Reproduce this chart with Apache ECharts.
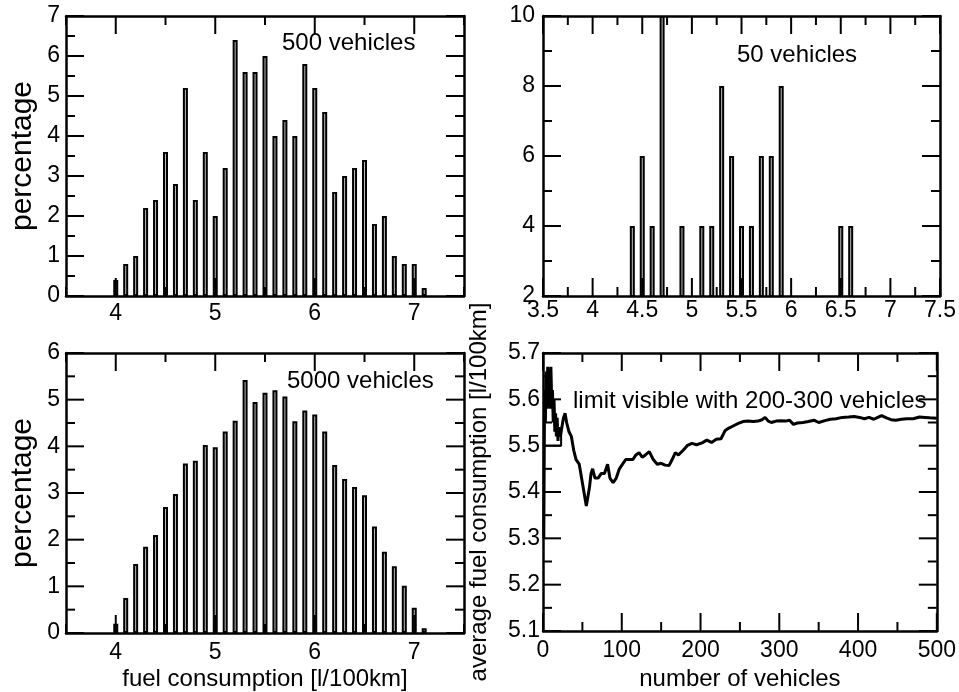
<!DOCTYPE html>
<html>
<head>
<meta charset="utf-8">
<title>fuel consumption</title>
<script src="https://cdn.jsdelivr.net/npm/echarts@6/dist/echarts.min.js"></script>
<style>
  html, body { margin: 0; padding: 0; background: #fff; }
  #charts { width: 959px; height: 692px; }
</style>
</head>
<body>
<div id="charts"></div>
<script>
// histogram bins [l/100km]
const bins500 = [4.0, 4.1, 4.2, 4.3, 4.4, 4.5, 4.6, 4.7, 4.8, 4.9, 5.0, 5.1, 5.2, 5.3, 5.4, 5.5,
  5.6, 5.7, 5.8, 5.9, 6.0, 6.1, 6.2, 6.3, 6.4, 6.5, 6.6, 6.7, 6.8, 6.9, 7.0, 7.1];
const pct500 = [0.4, 0.8, 1.0, 2.2, 2.4, 3.6, 2.8, 5.2, 2.4, 3.6, 2.0, 3.2, 6.4, 5.6, 5.6, 6.0,
  4.0, 4.4, 4.0, 5.8, 5.2, 4.6, 2.6, 3.0, 3.2, 3.4, 1.8, 2.0, 1.0, 0.8, 0.8, 0.2];

const bins50 = [4.4, 4.5, 4.6, 4.7, 4.9, 5.1, 5.2, 5.3, 5.4, 5.5, 5.6, 5.7, 5.8, 5.9, 6.5, 6.6];
const pct50 = [4, 6, 4, 10, 4, 4, 4, 8, 6, 4, 4, 6, 6, 8, 4, 4];

const bins5000 = [4.0, 4.1, 4.2, 4.3, 4.4, 4.5, 4.6, 4.7, 4.8, 4.9, 5.0, 5.1, 5.2, 5.3, 5.4, 5.5,
  5.6, 5.7, 5.8, 5.9, 6.0, 6.1, 6.2, 6.3, 6.4, 6.5, 6.6, 6.7, 6.8, 6.9, 7.0, 7.1];
const pct5000 = [0.2, 0.75, 1.48, 1.85, 2.1, 2.7, 2.98, 3.63, 3.69, 4.03, 3.98, 4.32, 4.55, 5.42, 4.95, 5.15,
  5.2, 5.07, 4.54, 4.77, 4.68, 4.32, 3.6, 3.3, 3.13, 2.95, 2.28, 1.74, 1.43, 1.01, 0.54, 0.1];

// running average over the first n vehicles
const vehicleCount = [1, 2, 3, 4, 5, 6, 7, 8, 9, 10, 11, 12, 13, 14, 15, 16, 17, 18, 19, 20,
  22, 24, 26, 28, 30, 33, 36, 39, 42, 46, 50, 53, 55, 57, 59, 61, 63, 66, 70, 74,
  78, 82, 85, 89, 93, 97, 101, 105, 110, 114, 118, 122, 126, 130, 135, 140, 145, 150, 155, 160,
  164, 168, 172, 178, 183, 189, 195, 202, 208, 214, 220, 226, 231, 236, 242, 248, 254, 260, 267, 273,
  278, 282, 286, 290, 296, 302, 308, 313, 318, 323, 330, 337, 344, 350, 358, 365, 372, 380, 388, 395,
  402, 408, 414, 420, 425, 430, 436, 442, 448, 455, 462, 470, 478, 485, 491, 500];
const avgFuel = [5.3, 5.62, 5.55, 5.66, 5.58, 5.67, 5.6, 5.64, 5.58, 5.67, 5.6, 5.62, 5.55, 5.6, 5.53, 5.57, 5.52, 5.56, 5.51, 5.54,
  5.52, 5.52, 5.56, 5.57, 5.55, 5.53, 5.52, 5.49, 5.47, 5.46, 5.42, 5.39, 5.37, 5.39, 5.41, 5.44, 5.45, 5.43, 5.43, 5.44,
  5.44, 5.46, 5.43, 5.42, 5.43, 5.45, 5.46, 5.47, 5.47, 5.47, 5.48, 5.485, 5.475, 5.48, 5.487, 5.47, 5.46, 5.462, 5.458, 5.457,
  5.47, 5.485, 5.48, 5.49, 5.5, 5.505, 5.502, 5.506, 5.512, 5.507, 5.514, 5.515, 5.532, 5.538, 5.543, 5.548, 5.552, 5.553, 5.552, 5.553,
  5.556, 5.561, 5.553, 5.55, 5.553, 5.554, 5.553, 5.555, 5.546, 5.549, 5.55, 5.552, 5.555, 5.55, 5.554, 5.557, 5.558, 5.561, 5.562, 5.563,
  5.561, 5.558, 5.561, 5.557, 5.561, 5.565, 5.56, 5.556, 5.555, 5.557, 5.558, 5.558, 5.562, 5.561, 5.56, 5.559];
// the little step drawn at the start of the curve
const startCount = [0, 23, 23];
const startFuel = [5.5, 5.5, 5.53];

// tick positions (long = major, short = minor), drawn inside the box on all 4 sides
const fuelMajor = [4, 5, 6, 7];
const fuelMinor = [3.5, 4.5, 5.5, 6.5, 7.5];
const fuel50Major = [3.5, 4, 4.5, 5, 5.5, 6, 6.5, 7, 7.5];
const fuel50Minor = [3.75, 4.25, 4.75, 5.25, 5.75, 6.25, 6.75, 7.25];
const pct500Major = [0, 1, 2, 3, 4, 5, 6, 7];
const pct500Minor = [0.5, 1.5, 2.5, 3.5, 4.5, 5.5, 6.5];
const pct50Major = [2, 4, 6, 8, 10];
const pct50Minor = [3, 5, 7, 9];
const pct5000Major = [0, 1, 2, 3, 4, 5, 6];
const pct5000Minor = [0.5, 1.5, 2.5, 3.5, 4.5, 5.5];
const countMajor = [0, 100, 200, 300, 400, 500];
const countMinor = [50, 150, 250, 350, 450];
const avgMajor = [5.1, 5.2, 5.3, 5.4, 5.5, 5.6, 5.7];
const avgMinor = [5.15, 5.25, 5.35, 5.45, 5.55, 5.65];

const FONT = "'Liberation Sans', Arial, Helvetica, sans-serif";
const MAJOR = 18;
const MINOR = 9;

// axis of the box: line + labels, ticks come from tickSeries
function boxAxis(grid, pos, min, max, step, label, name, nameGap, nameSize) {
  let ax = {
    type: 'value',
    gridIndex: grid,
    position: pos,
    min: min,
    max: max,
    interval: step,
    splitLine: { show: false },
    axisLine: { show: true, onZero: false, lineStyle: { color: '#000', width: 2.5 } },
    axisTick: { show: false },
    axisLabel: { show: false }
  };
  if (label) {
    ax.axisLabel = { show: true, margin: label.margin, fontSize: 23, color: '#000', fontFamily: FONT, formatter: label.formatter };
  }
  if (name) {
    ax.name = name;
    ax.nameLocation = 'middle';
    ax.nameGap = nameGap;
    ax.nameTextStyle = { fontSize: nameSize, color: '#000', fontFamily: FONT };
  }
  return ax;
}

// only whole numbers get a label on the 3.5..7.5 fuel axis
function wholeOnly(v) {
  return v % 1 === 0 ? String(v) : '';
}

function barSeries(xi, bins, pct) {
  return {
    type: 'bar',
    xAxisIndex: xi,
    yAxisIndex: xi,
    data: bins.map(function (b, i) { return [b, pct[i]]; }),
    barWidth: 5,
    clip: true,
    itemStyle: { color: '#bdbdbd', borderColor: '#000', borderWidth: 2 }
  };
}

// inside ticks on both sides of the box; item = [0 for x / 1 for y, value, length]
function tickSeries(xi, xMajor, xMinor, yMajor, yMinor) {
  let data = [];
  xMajor.forEach(function (v) { data.push([0, v, MAJOR]); });
  xMinor.forEach(function (v) { data.push([0, v, MINOR]); });
  yMajor.forEach(function (v) { data.push([1, v, MAJOR]); });
  yMinor.forEach(function (v) { data.push([1, v, MINOR]); });
  const style = { stroke: '#000', lineWidth: 2 };
  return {
    type: 'custom',
    xAxisIndex: xi,
    yAxisIndex: xi,
    z: 5,
    silent: true,
    data: data,
    encode: { x: -1, y: -1 },
    renderItem: function (params, api) {
      const c = params.coordSys;
      const len = api.value(2);
      if (api.value(0) === 0) {
        const x = api.coord([api.value(1), 0])[0];
        return {
          type: 'group',
          children: [
            { type: 'line', shape: { x1: x, y1: c.y + c.height, x2: x, y2: c.y + c.height - len }, style: style },
            { type: 'line', shape: { x1: x, y1: c.y, x2: x, y2: c.y + len }, style: style }
          ]
        };
      }
      const y = api.coord([0, api.value(1)])[1];
      return {
        type: 'group',
        children: [
          { type: 'line', shape: { x1: c.x, y1: y, x2: c.x + len, y2: y }, style: style },
          { type: 'line', shape: { x1: c.x + c.width, y1: y, x2: c.x + c.width - len, y2: y }, style: style }
        ]
      };
    }
  };
}

let myChart = echarts.init(document.getElementById('charts'));

myChart.setOption({
  animation: false,
  textStyle: { fontFamily: FONT },
  grid: [
    { left: 66, top: 16, width: 398, height: 280 },
    { left: 543, top: 16, width: 398, height: 280 },
    { left: 66, top: 353, width: 398, height: 280 },
    { left: 543, top: 353, width: 398, height: 280 }
  ],
  // index 2*g = labelled side, 2*g+1 = mirrored side
  xAxis: [
    boxAxis(0, 'bottom', 3.5, 7.5, 0.5, { margin: 6, formatter: wholeOnly }),
    boxAxis(0, 'top', 3.5, 7.5, 0.5),
    boxAxis(1, 'bottom', 3.5, 7.5, 0.5, { margin: 3 }),
    boxAxis(1, 'top', 3.5, 7.5, 0.5),
    boxAxis(2, 'bottom', 3.5, 7.5, 0.5, { margin: 8, formatter: wholeOnly }, 'fuel consumption [l/100km]', 34, 24),
    boxAxis(2, 'top', 3.5, 7.5, 0.5),
    boxAxis(3, 'bottom', 0, 500, 100, { margin: 8 }, 'number of vehicles', 36, 24),
    boxAxis(3, 'top', 0, 500, 100)
  ],
  yAxis: [
    boxAxis(0, 'left', 0, 7, 1, { margin: 6 }, 'percentage', 28, 30),
    boxAxis(0, 'right', 0, 7, 1),
    boxAxis(1, 'left', 2, 10, 2, { margin: 8 }),
    boxAxis(1, 'right', 2, 10, 2),
    boxAxis(2, 'left', 0, 6, 1, { margin: 6 }, 'percentage', 28, 30),
    boxAxis(2, 'right', 0, 6, 1),
    boxAxis(3, 'left', 5.1, 5.7, 0.1, { margin: 3 }, 'average fuel consumption [l/100km]', 52, 24),
    boxAxis(3, 'right', 5.1, 5.7, 0.1)
  ],
  series: [
    barSeries(0, bins500, pct500),
    barSeries(2, bins50, pct50),
    barSeries(4, bins5000, pct5000),
    {
      type: 'line',
      xAxisIndex: 6,
      yAxisIndex: 6,
      data: vehicleCount.map(function (n, i) { return [n, avgFuel[i]]; }),
      showSymbol: false,
      clip: true,
      lineStyle: { color: '#000', width: 3 }
    },
    {
      type: 'line',
      xAxisIndex: 6,
      yAxisIndex: 6,
      data: startCount.map(function (n, i) { return [n, startFuel[i]]; }),
      showSymbol: false,
      clip: true,
      lineStyle: { color: '#000', width: 2 }
    },
    tickSeries(0, fuelMajor, fuelMinor, pct500Major, pct500Minor),
    tickSeries(2, fuel50Major, fuel50Minor, pct50Major, pct50Minor),
    tickSeries(4, fuelMajor, fuelMinor, pct5000Major, pct5000Minor),
    tickSeries(6, countMajor, countMinor, avgMajor, avgMinor)
  ],
  // panel notes
  graphic: [
    { type: 'text', x: 282, y: 43, style: { text: '500 vehicles', fontSize: 24, fontFamily: FONT, fill: '#000', verticalAlign: 'middle' } },
    { type: 'text', x: 737, y: 55, style: { text: '50 vehicles', fontSize: 24, fontFamily: FONT, fill: '#000', verticalAlign: 'middle' } },
    { type: 'text', x: 287, y: 381, style: { text: '5000 vehicles', fontSize: 24, fontFamily: FONT, fill: '#000', verticalAlign: 'middle' } },
    { type: 'text', x: 573, y: 401, style: { text: 'limit visible with 200-300 vehicles', fontSize: 24, fontFamily: FONT, fill: '#000', verticalAlign: 'middle' } }
  ]
});
</script>
</body>
</html>
